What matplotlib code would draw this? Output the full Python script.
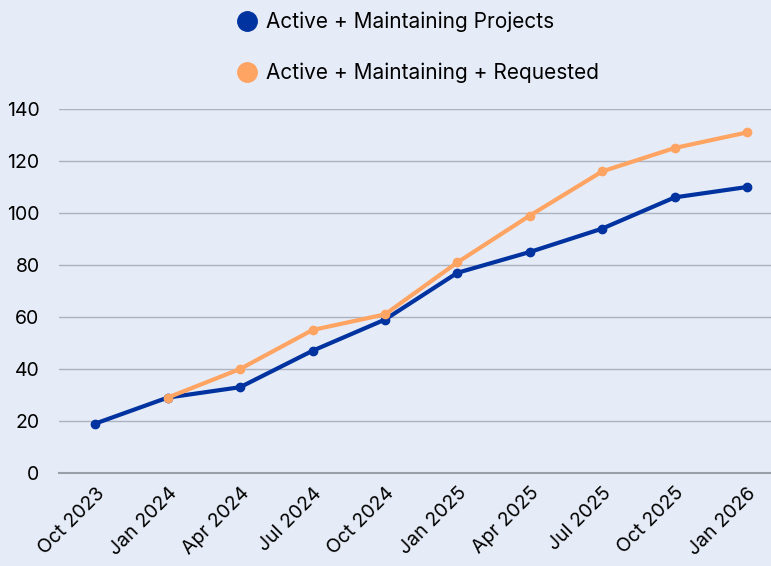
import matplotlib.pyplot as plt
from matplotlib.lines import Line2D

quarters = ['Oct 2023', 'Jan 2024', 'Apr 2024', 'Jul 2024', 'Oct 2024',
            'Jan 2025', 'Apr 2025', 'Jul 2025', 'Oct 2025', 'Jan 2026']
active_maintaining = [19, 29, 33, 47, 59, 77, 85, 94, 106, 110]
with_requested = [None, 29, 40, 55, 61, 81, 99, 116, 125, 131]

bg = '#E6ECF7'
blue = '#0033A0'
orange = '#FFA463'

plt.rcParams['font.family'] = ['Inter', 'DejaVu Sans']

fig = plt.figure(figsize=(7.71, 5.66), dpi=100, facecolor=bg)
ax = fig.add_axes([59 / 771, 1 - 473 / 566, 1 - 59 / 771, 364 / 566])
ax.set_facecolor(bg)

x = list(range(len(quarters)))
xr = [i for i, v in zip(x, with_requested) if v is not None]
yr = [v for v in with_requested if v is not None]

ax.plot(x, active_maintaining, color=blue, lw=3, marker='o', ms=6, zorder=3, clip_on=False)
ax.plot(xr, yr, color=orange, lw=3, marker='o', ms=6, zorder=4, clip_on=False)

ax.set_xlim(-0.5, 9.33)
ax.set_ylim(0, 140)
ax.set_yticks(range(0, 141, 20))
ax.set_xticks(x)
ax.set_xticklabels(quarters, rotation=45, ha='right', rotation_mode='anchor', fontsize=14)
ax.tick_params(axis='y', labelsize=14, length=0, pad=14)
ax.tick_params(axis='x', length=0, pad=8)
ax.grid(axis='y', color='#ADB3BE', lw=1)
ax.set_axisbelow(True)
for s in ['top', 'right', 'left']:
    ax.spines[s].set_visible(False)
ax.spines['bottom'].set_color('#9A9EA6')
ax.spines['bottom'].set_linewidth(1.5)

handles = [
    Line2D([], [], ls='none', marker='o', ms=14, color=blue),
    Line2D([], [], ls='none', marker='o', ms=14, color=orange),
]
fig.legend(handles, ['Active + Maintaining Projects', 'Active + Maintaining + Requested'],
           loc='upper left', bbox_to_anchor=(216 / 771, 1 + 7 / 566), frameon=False,
           fontsize=15, labelspacing=1.45, handletextpad=0.3, handlelength=1.2)

fig.savefig('out.png', dpi=100, facecolor=bg)
